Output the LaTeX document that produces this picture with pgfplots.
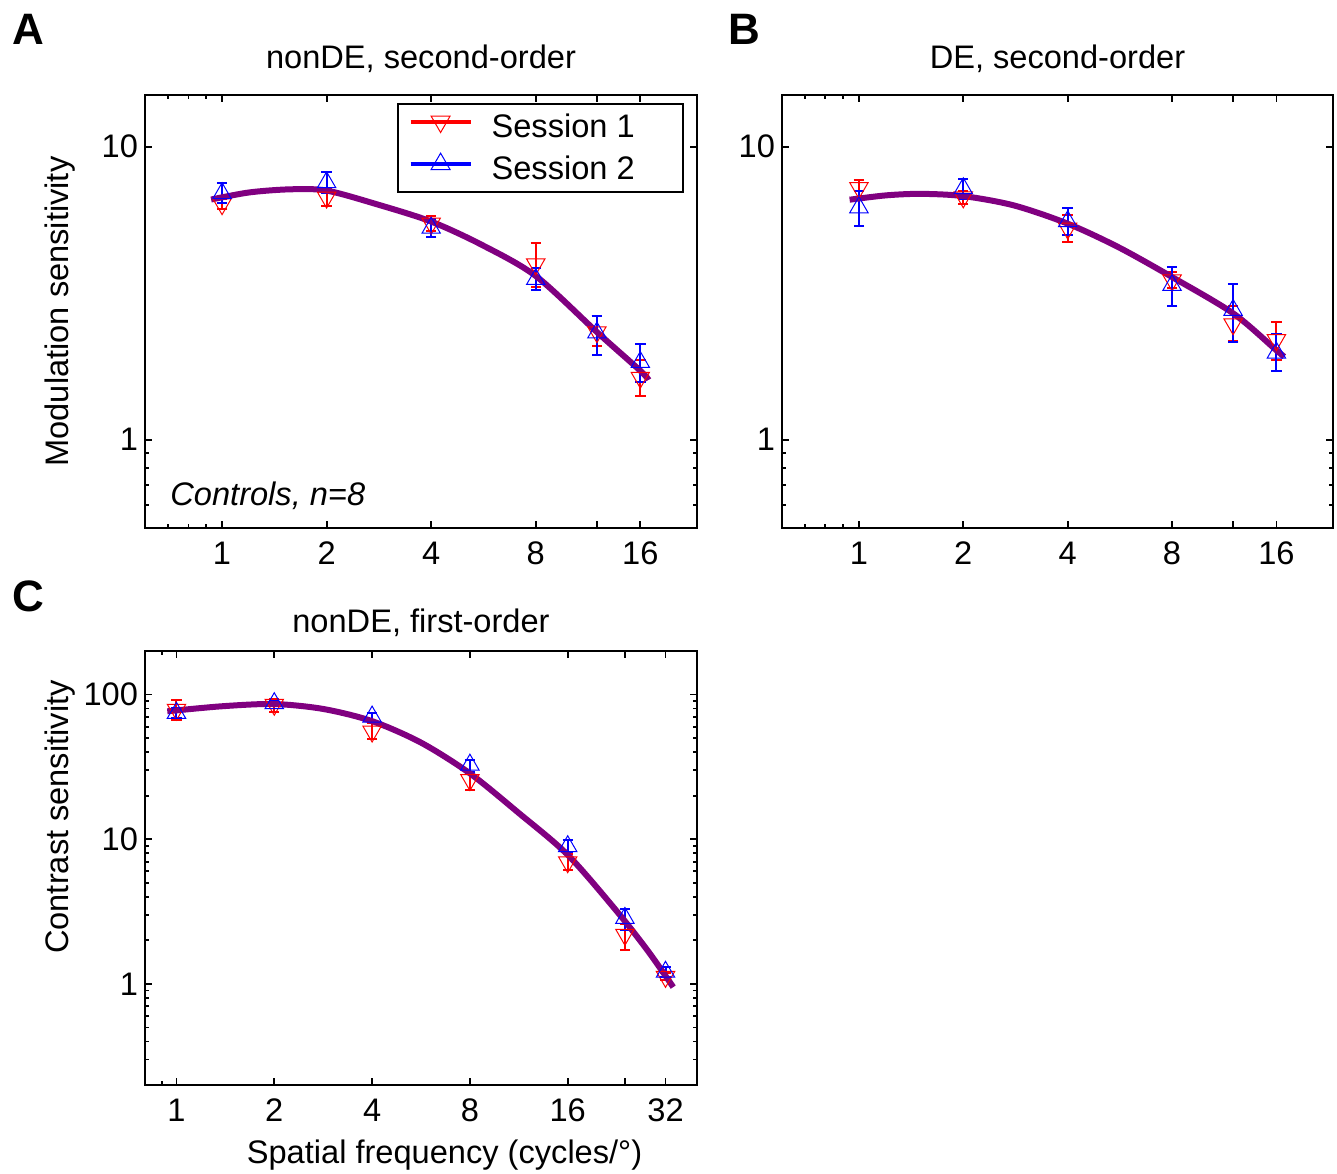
\documentclass[border=0pt]{standalone}
\usepackage{pgfplots}
\pgfplotsset{compat=1.18}
\usepackage{pgfplotstable}
\usepackage{fontspec}
\setmainfont{Liberation Sans}

\definecolor{sone}{RGB}{255,0,0}
\definecolor{stwo}{RGB}{0,0,255}
\definecolor{fitc}{RGB}{128,0,128}

% columns: frequency, sensitivity, error up, error down
\pgfplotstableread{
x y ep em
1 6.37 0.28 0.26
2 6.71 0.47 0.46
4 5.47 0.33 0.32
8 3.97 0.72 0.65
12 2.33 0.31 0.24
16 1.63 0.24 0.22
}\aone
\pgfplotstableread{
x y ep em
1 6.93 0.57 0.52
2 7.55 0.67 0.62
4 5.28 0.40 0.37
8 3.53 0.31 0.29
12 2.32 0.32 0.37
16 1.84 0.28 0.27
}\atwo
\pgfplotstableread{
x y ep em
1 7.23 0.49 0.56
2 6.72 0.36 0.34
4 5.26 0.58 0.53
8 3.50 0.24 0.21
12 2.48 0.38 0.31
16 2.19 0.33 0.32
}\bone
\pgfplotstableread{
x y ep em
1 6.20 0.85 0.84
2 7.20 0.56 0.56
4 5.56 0.61 0.55
8 3.37 0.50 0.51
12 2.77 0.64 0.61
16 1.98 0.31 0.27
}\btwo
\pgfplotstableread{
x y ep em
1 78.7 13.6 12.4
2 85.2 8.6 9.0
4 55.6 8.0 6.4
8 25.7 3.6 3.8
16 6.95 1.0 0.85
24 2.19 0.41 0.47
32 1.12 0.06 0.06
}\cone
\pgfplotstableread{
x y ep em
1 74.6 6.7 5.4
2 87.0 4.0 4.0
4 70.3 4.7 4.3
8 32.7 2.7 3.4
16 8.93 0.91 0.77
24 2.85 0.42 0.48
32 1.21 0.09 0.09
}\ctwo

\newcommand{\lbl}{\fontsize{16.3}{19}\selectfont}

\pgfplotsset{
  every axis/.append style={
    scale only axis,
    tick align=inside,
    major tick length=3.4pt, minor tick length=2pt,
    tick style={black, line width=0.9pt},
    axis line style={line width=1pt},
    tick label style={font=\lbl},
    label style={font=\lbl},
    title style={font=\lbl, at={(0.5,1)}, anchor=base, yshift=7.2pt},
    xticklabel style={anchor=base, yshift=-18.3pt},
    ylabel style={at={(axis description cs:-0.1377,0.5)}, anchor=base},
    clip=false,
  },
}

\begin{document}
\begin{tikzpicture}
\useasboundingbox (0,0) rectangle (668.5pt,586.5pt);

% A
\begin{loglogaxis}[at={(72.5pt,322.5pt)}, anchor=south west,
  width=276pt, height=216.5pt,
  xmin=0.6, xmax=23.3, ymin=0.5, ymax=15,
  xtick={1,2,4,8,12,16}, xticklabels={1,2,4,8,,16},
  minor xtick={0.7,0.8,0.9},
  ytick={1,10}, yticklabels={1,10},
  minor ytick={0.6,0.7,0.8,0.9},
  title={nonDE, second-order},
  ylabel={Modulation sensitivity},
  legend cell align=left,
  legend style={at={(0.976,0.9815)}, anchor=north east, draw=black,
    line width=1pt, font=\lbl, inner xsep=5.5pt, inner ysep=2.75pt,
    row sep=4pt, /tikz/every odd column/.append style={column sep=7.5pt}},
]
\addplot[only marks, color=sone, mark=triangle, mark size=5.3pt,
  mark options={rotate=180, line width=0.5pt},
  legend image code/.code={
    \draw[sone, line width=2pt] (0pt,0.5ex) -- (30pt,0.5ex);
    \draw[sone, line width=0.5pt] plot[only marks, mark=triangle, mark size=5.5pt,
      mark options={rotate=180}] coordinates {(15pt,0.5ex)};},
  error bars/.cd, y dir=both, y explicit,
  error bar style={line width=1pt, color=sone},
  error mark options={rotate=90, mark size=2.6pt, line width=1pt, color=sone}]
  table[x=x, y=y, y error plus=ep, y error minus=em] {\aone};
\addlegendentry{Session 1\hspace*{16.5pt}}
\addplot[only marks, color=stwo, mark=triangle, mark size=5.3pt,
  mark options={line width=0.5pt},
  legend image code/.code={
    \draw[stwo, line width=2pt] (0pt,0.5ex) -- (30pt,0.5ex);
    \draw[stwo, line width=0.5pt] plot[only marks, mark=triangle, mark size=5.5pt]
      coordinates {(15pt,0.5ex)};},
  error bars/.cd, y dir=both, y explicit,
  error bar style={line width=1pt, color=stwo},
  error mark options={rotate=90, mark size=2.6pt, line width=1pt, color=stwo}]
  table[x=x, y=y, y error plus=ep, y error minus=em] {\atwo};
\addlegendentry{Session 2\hspace*{16.5pt}}
\addplot[no marks, smooth, color=fitc, line width=3pt, forget plot] coordinates {
  (0.93,6.6) (1.2,6.98) (1.57,7.15) (2,7.08) (2.8,6.35) (4,5.55)
  (5.6,4.62) (8,3.62) (12,2.33) (16,1.72) (16.9,1.6)};
\node[anchor=base west, font=\lbl\itshape, inner sep=0pt]
  at (rel axis cs:0.0453,0.053) {Controls, n=8};
\end{loglogaxis}

% B
\begin{loglogaxis}[at={(391pt,322.5pt)}, anchor=south west,
  width=275.5pt, height=216.5pt,
  xmin=0.6, xmax=23.3, ymin=0.5, ymax=15,
  xtick={1,2,4,8,12,16}, xticklabels={1,2,4,8,,16},
  minor xtick={0.7,0.8,0.9},
  ytick={1,10}, yticklabels={1,10},
  minor ytick={0.6,0.7,0.8,0.9},
  title={DE, second-order},
]
\addplot[only marks, color=sone, mark=triangle, mark size=5.3pt,
  mark options={rotate=180, line width=0.5pt},
  error bars/.cd, y dir=both, y explicit,
  error bar style={line width=1pt, color=sone},
  error mark options={rotate=90, mark size=2.6pt, line width=1pt, color=sone}]
  table[x=x, y=y, y error plus=ep, y error minus=em] {\bone};
\addplot[only marks, color=stwo, mark=triangle, mark size=5.3pt,
  mark options={line width=0.5pt},
  error bars/.cd, y dir=both, y explicit,
  error bar style={line width=1pt, color=stwo},
  error mark options={rotate=90, mark size=2.6pt, line width=1pt, color=stwo}]
  table[x=x, y=y, y error plus=ep, y error minus=em] {\btwo};
\addplot[no marks, smooth, color=fitc, line width=3pt] coordinates {
  (0.94,6.59) (1.2,6.82) (1.51,6.9) (2,6.78) (2.8,6.3) (4,5.46)
  (5.6,4.54) (8,3.59) (12,2.7) (16,2.02) (16.85,1.92)};
\end{loglogaxis}

% C
\begin{loglogaxis}[at={(72.5pt,44pt)}, anchor=south west,
  width=276pt, height=217pt,
  xmin=0.8, xmax=40, ymin=0.2, ymax=200,
  xtick={1,2,4,8,16,24,32}, xticklabels={1,2,4,8,16,,32},
  minor xtick={0.9},
  ytick={1,10,100}, yticklabels={1,10,100},
  minor ytick={0.3,0.4,0.5,0.6,0.7,0.8,0.9,2,3,4,5,6,7,8,9,20,30,40,50,60,70,80,90},
  title={nonDE, first-order},
  title style={yshift=-4pt},
  ylabel={Contrast sensitivity},
  ylabel style={at={(axis description cs:-0.1377,0.6175)}},
  xlabel={Spatial frequency (cycles/°)},
  xlabel style={at={(axis description cs:0.5426,0)}, anchor=base, yshift=-39pt},
]
\addplot[only marks, color=sone, mark=triangle, mark size=5.3pt,
  mark options={rotate=180, line width=0.5pt},
  error bars/.cd, y dir=both, y explicit,
  error bar style={line width=1pt, color=sone},
  error mark options={rotate=90, mark size=2.6pt, line width=1pt, color=sone}]
  table[x=x, y=y, y error plus=ep, y error minus=em] {\cone};
\addplot[only marks, color=stwo, mark=triangle, mark size=5.3pt,
  mark options={line width=0.5pt},
  error bars/.cd, y dir=both, y explicit,
  error bar style={line width=1pt, color=stwo},
  error mark options={rotate=90, mark size=2.6pt, line width=1pt, color=stwo}]
  table[x=x, y=y, y error plus=ep, y error minus=em] {\ctwo};
\addplot[no marks, smooth, color=fitc, line width=3pt] coordinates {
  (0.937,76.6) (1.38,83) (2,86) (2.83,79.5) (4,65.5) (5.66,46.5)
  (8,28.5) (11.3,15.2) (16,7.8) (22.6,3.2) (28.3,1.68) (33.8,0.95)};
\end{loglogaxis}

\node[anchor=base west, inner sep=0pt, font=\fontsize{22}{24}\selectfont\bfseries] at (6pt,564pt) {A};
\node[anchor=base west, inner sep=0pt, font=\fontsize{22}{24}\selectfont\bfseries] at (364pt,564pt) {B};
\node[anchor=base west, inner sep=0pt, font=\fontsize{22}{24}\selectfont\bfseries] at (6pt,280.5pt) {C};
\end{tikzpicture}
\end{document}
